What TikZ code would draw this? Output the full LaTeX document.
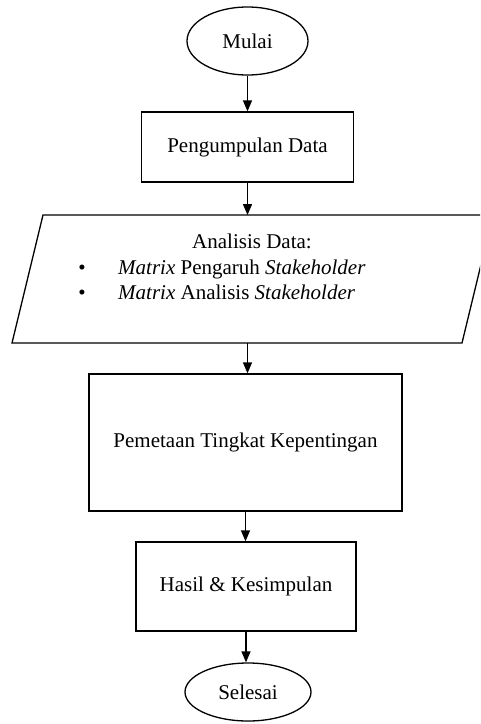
\documentclass[tikz,border=0pt]{standalone}
\usepackage{fontspec}
\setmainfont{Liberation Serif}
\usetikzlibrary{shapes.geometric,arrows.meta}
\begin{document}
\begin{tikzpicture}[x=1pt,y=-1pt,
  every node/.style={font=\fontsize{21}{25}\selectfont},
  term/.style={draw,ellipse,line width=1.3pt,inner sep=0pt},
  procbox/.style={draw,rectangle,line width=1.3pt,inner sep=0pt},
  arr/.style={line width=1.3pt,-{Triangle[length=11pt,width=9pt]}},
  txt/.style={inner sep=0pt}]
\useasboundingbox (0,0) rectangle (480,724);
\clip (0,0) rectangle (480,724);
\fill[white] (0,0) rectangle (480,724);
\node[term,minimum width=121pt,minimum height=68pt] (mulai) at (247.5,41) {Mulai};
\node[procbox,minimum width=212pt,minimum height=70pt] (kumpul) at (247.5,147) {Pengumpulan Data};
\draw[line width=1.3pt,line join=miter] (43,215) -- (493,215) -- (462,343) -- (12,343) -- cycle;
\coordinate (pt) at (247.5,215);
\coordinate (pb) at (247.5,343);
\node[txt,anchor=base] (judul) at (252,248) {Analisis Data:};
\node[txt,anchor=base] (b1) at (82,274) {•};
\node[txt,anchor=base west] (l1) at (118,274) {\textit{Matrix} Pengaruh \textit{Stakeholder}};
\node[txt,anchor=base] (b2) at (82,299) {•};
\node[txt,anchor=base west] (l2) at (118,299) {\textit{Matrix} Analisis \textit{Stakeholder}};
\node[procbox,minimum width=313pt,minimum height=137pt] (petakan) at (245.5,442.5) {Pemetaan Tingkat Kepentingan};
\node[procbox,minimum width=220pt,minimum height=89pt] (hasil) at (246,586.5) {Hasil \& Kesimpulan};
\node[term,minimum width=126pt,minimum height=58pt] (selesai) at (248,692) {Selesai};
\draw[arr] (mulai.south) -- (mulai.south |- kumpul.north);
\draw[arr] (kumpul.south) -- (kumpul.south |- pt);
\draw[arr] (pb) -- (pb |- petakan.north);
\draw[arr] (petakan.south) -- (petakan.south |- hasil.north);
\draw[arr] (hasil.south) -- (hasil.south |- selesai.north);
\end{tikzpicture}
\end{document}
